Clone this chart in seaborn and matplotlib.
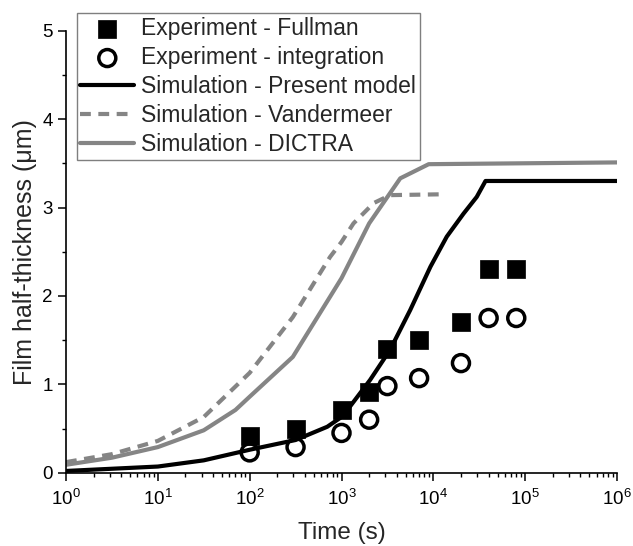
import numpy as np
import pandas as pd
import matplotlib
matplotlib.use("Agg")
import matplotlib.pyplot as plt
import seaborn as sns

# ---- data ----
exp_time = [100, 316, 1000, 2000, 3160, 7000, 20000, 40000, 80000]
fullman = [0.41, 0.49, 0.71, 0.91, 1.40, 1.50, 1.70, 2.30, 2.30]
integration = [0.23, 0.29, 0.45, 0.60, 0.98, 1.07, 1.24, 1.75, 1.75]

present_t = [1, 10, 31.6, 100, 316, 700, 1000, 1240, 2050, 3380, 5600, 9300, 14000, 21300, 29700, 37000, 1e6]
present_y = [0.02, 0.07, 0.14, 0.26, 0.37, 0.52, 0.63, 0.75, 1.05, 1.39, 1.84, 2.33, 2.67, 2.93, 3.12, 3.30, 3.30]

vander_t = [1, 3.16, 10, 31.6, 100, 295, 750, 1000, 1350, 2240, 3390, 13500]
vander_y = [0.12, 0.21, 0.36, 0.63, 1.13, 1.76, 2.44, 2.61, 2.82, 3.05, 3.14, 3.15]

dictra_t = [1, 3.16, 10, 31.6, 70, 100, 295, 750, 1000, 2000, 4365, 8900, 1e6]
dictra_y = [0.09, 0.17, 0.29, 0.48, 0.71, 0.86, 1.31, 1.99, 2.20, 2.82, 3.33, 3.49, 3.51]

xticks = [1e0, 1e1, 1e2, 1e3, 1e4, 1e5, 1e6]
yticks = [0, 1, 2, 3, 4, 5]

labels = ["Experiment - Fullman", "Experiment - integration",
          "Simulation - Present model", "Simulation - Vandermeer",
          "Simulation - DICTRA"]

sns.set_style("ticks")
plt.rcParams["font.family"] = ["Liberation Sans", "DejaVu Sans"]

fig = plt.figure(figsize=(6.33, 5.46), dpi=100)
ax = fig.add_axes([0.1043, 0.1342, 0.8704, 0.8096])

gray = "#858585"
sns.lineplot(x=present_t, y=present_y, ax=ax, color="black", lw=3.0,
             label=labels[2], zorder=2)
sns.lineplot(x=vander_t, y=vander_y, ax=ax, color=gray, lw=3.0,
             linestyle=(0, (2.6, 1.8)), label=labels[3], zorder=2)
sns.lineplot(x=dictra_t, y=dictra_y, ax=ax, color=gray, lw=3.0,
             label=labels[4], zorder=2)

sns.scatterplot(x=exp_time, y=fullman, ax=ax, marker="s", s=180,
                color="black", edgecolor="black", linewidth=0.5,
                label=labels[0], zorder=3)
sns.scatterplot(x=exp_time, y=integration, ax=ax, marker="o", s=150,
                facecolors="none", edgecolor="black", linewidth=2.5,
                label=labels[1], zorder=3)

ax.set_xscale("log")
ax.set_xlim(1, 1e6)
ax.set_ylim(0, 5)
ax.set_xticks(xticks)
ax.xaxis.set_minor_locator(matplotlib.ticker.LogLocator(base=10, subs=np.arange(2, 10), numticks=20))
ax.xaxis.set_minor_formatter(matplotlib.ticker.NullFormatter())
ax.set_yticks(yticks)
ax.set_yticks(np.arange(0.5, 5, 1.0), minor=True)

for s in ["top", "right"]:
    ax.spines[s].set_visible(False)
for s in ["left", "bottom"]:
    ax.spines[s].set_linewidth(1.2)
    ax.spines[s].set_color("black")

ax.tick_params(which="major", direction="out", length=5.5, width=1.1,
               labelsize=13.5, colors="black", pad=4)
ax.tick_params(which="minor", direction="out", length=3.2, width=1.0, colors="black")
ax.tick_params(axis="x", which="major", pad=6.5)

ax.set_xlabel("Time (s)", fontsize=17.5, labelpad=9)
ax.set_ylabel("Film half-thickness (\u03bcm)", fontsize=18, labelpad=4)

handles, labs = ax.get_legend_handles_labels()
order = [labs.index(l) for l in labels]
leg = ax.legend([handles[i] for i in order], [labs[i] for i in order],
                loc="upper left", bbox_to_anchor=(0.0194, 1.039),
                borderaxespad=0, fontsize=16.5, frameon=True, fancybox=False,
                edgecolor="#7f7f7f", framealpha=1, borderpad=0.16,
                labelspacing=0.26, handlelength=2.35, handletextpad=0.3,
                scatterpoints=1)
leg.get_frame().set_linewidth(1.0)

fig.savefig("out.png", dpi=100)
